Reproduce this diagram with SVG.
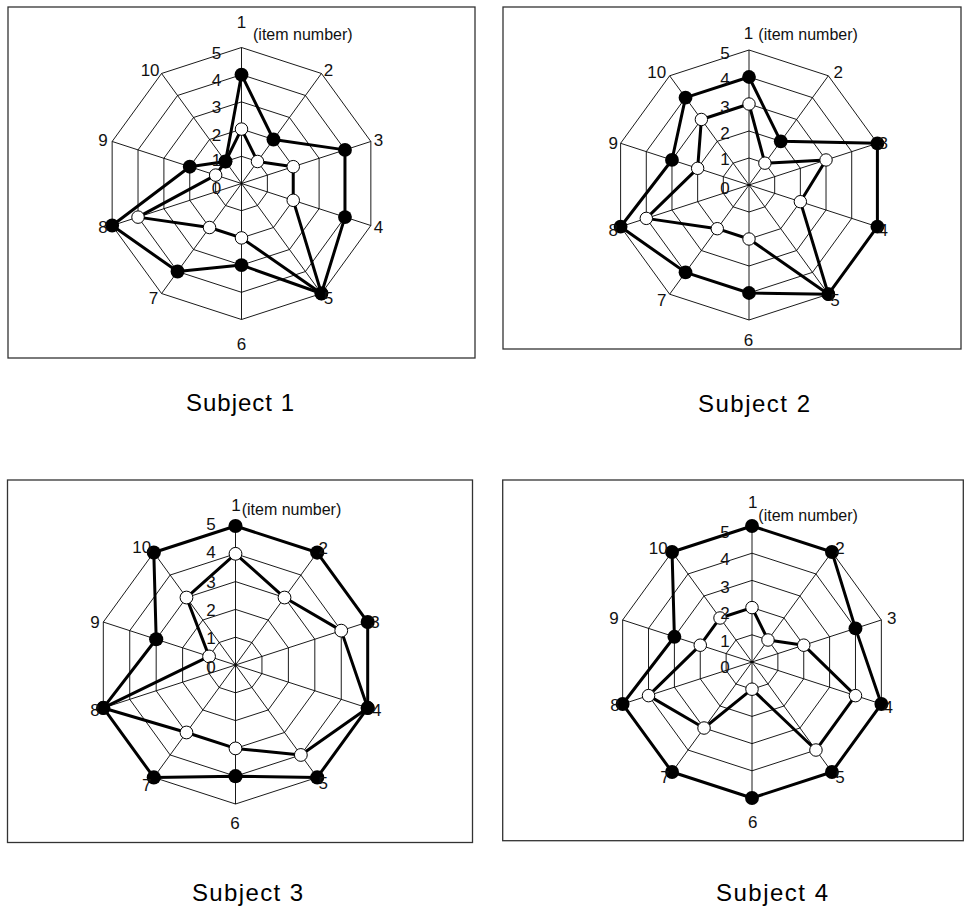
<svg xmlns="http://www.w3.org/2000/svg" xmlns:xlink="http://www.w3.org/1999/xlink" width="966" height="908" viewBox="0 0 966 908">
<style>
.frame{fill:#fff;stroke:#333;stroke-width:1.3}
.gr{fill:none;stroke:#000;stroke-width:0.9;vector-effect:non-scaling-stroke}
.ln{fill:none;stroke:#000;stroke-width:3;stroke-linejoin:round;vector-effect:non-scaling-stroke}
.w{fill:#fff;stroke:#000;stroke-width:1;vector-effect:non-scaling-stroke}
.b{fill:#000}
.lb{font-family:"Liberation Sans",Arial,sans-serif;font-size:17px;fill:#111;text-anchor:middle}
.it{font-family:"Liberation Sans",Arial,sans-serif;font-size:16px;fill:#111}
.subj{font-family:"Liberation Sans",Arial,sans-serif;font-size:24px;fill:#000;text-anchor:middle}
</style>
<defs>
<g id="grid">
<polygon class="gr" points="0,-100 58.78,-80.9 95.11,-30.9 95.11,30.9 58.78,80.9 0,100 -58.78,80.9 -95.11,30.9 -95.11,-30.9 -58.78,-80.9"/>
<polygon class="gr" points="0,-80 47.02,-64.72 76.08,-24.72 76.08,24.72 47.02,64.72 0,80 -47.02,64.72 -76.08,24.72 -76.08,-24.72 -47.02,-64.72"/>
<polygon class="gr" points="0,-60 35.27,-48.54 57.06,-18.54 57.06,18.54 35.27,48.54 0,60 -35.27,48.54 -57.06,18.54 -57.06,-18.54 -35.27,-48.54"/>
<polygon class="gr" points="0,-40 23.51,-32.36 38.04,-12.36 38.04,12.36 23.51,32.36 0,40 -23.51,32.36 -38.04,12.36 -38.04,-12.36 -23.51,-32.36"/>
<polygon class="gr" points="0,-20 11.76,-16.18 19.02,-6.18 19.02,6.18 11.76,16.18 0,20 -11.76,16.18 -19.02,6.18 -19.02,-6.18 -11.76,-16.18"/>
<path class="gr" d="M0,-100V100M58.78,-80.9L-58.78,80.9M95.11,-30.9L-95.11,30.9M95.11,30.9L-95.11,-30.9M58.78,80.9L-58.78,-80.9"/>
</g>
<circle id="wd" class="w" r="4.6"/>
<circle id="bd" class="b" r="5.1"/>
</defs>
<rect width="966" height="908" fill="#fff"/>

<g id="chart1">
<rect class="frame" x="8" y="7" width="467" height="351"/>
<g transform="translate(241.5,183.5) scale(1.36)">
<use href="#grid"/>
<polygon class="ln" points="0,-40 11.76,-16.18 38.04,-12.36 38.04,12.36 58.78,80.9 0,40 -23.51,32.36 -76.08,24.72 -19.02,-6.18 -11.76,-16.18"/>
<polygon class="ln" points="0,-80 23.51,-32.36 76.08,-24.72 76.08,24.72 58.78,80.9 0,60 -47.02,64.72 -95.11,30.9 -38.04,-12.36 -11.76,-16.18"/>
<use href="#wd" x="0" y="-40"/><use href="#wd" x="11.76" y="-16.18"/><use href="#wd" x="38.04" y="-12.36"/><use href="#wd" x="38.04" y="12.36"/><use href="#wd" x="58.78" y="80.9"/><use href="#wd" x="0" y="40"/><use href="#wd" x="-23.51" y="32.36"/><use href="#wd" x="-76.08" y="24.72"/><use href="#wd" x="-19.02" y="-6.18"/><use href="#wd" x="-11.76" y="-16.18"/>
<use href="#bd" x="0" y="-80"/><use href="#bd" x="23.51" y="-32.36"/><use href="#bd" x="76.08" y="-24.72"/><use href="#bd" x="76.08" y="24.72"/><use href="#bd" x="58.78" y="80.9"/><use href="#bd" x="0" y="60"/><use href="#bd" x="-47.02" y="64.72"/><use href="#bd" x="-95.11" y="30.9"/><use href="#bd" x="-38.04" y="-12.36"/><use href="#bd" x="-11.76" y="-16.18"/>
</g>
<text class="lb" x="241.5" y="27.5">1</text>
<text class="it" x="253" y="39.5">(item number)</text>
<text class="lb" x="328.4" y="76">2</text>
<text class="lb" x="378.4" y="146">3</text>
<text class="lb" x="378.4" y="232.5">4</text>
<text class="lb" x="328.4" y="303.5">5</text>
<text class="lb" x="241.5" y="349.5">6</text>
<text class="lb" x="153.6" y="303.5">7</text>
<text class="lb" x="103.1" y="232.5">8</text>
<text class="lb" x="103.1" y="146">9</text>
<text class="lb" x="150.1" y="76">10</text>
<text class="lb" x="216.5" y="59.3">5</text>
<text class="lb" x="216.5" y="86">4</text>
<text class="lb" x="216.5" y="113">3</text>
<text class="lb" x="216.5" y="141">2</text>
<text class="lb" x="216.5" y="166">1</text>
<text class="lb" x="216.5" y="194">0</text>
<text class="subj" x="240" y="410.5" textLength="108" lengthAdjust="spacing">Subject 1</text>
</g>

<g id="chart2">
<rect class="frame" x="503" y="7" width="458" height="342"/>
<g transform="translate(749,185) scale(1.35)">
<use href="#grid"/>
<polygon class="ln" points="0,-60 11.76,-16.18 57.06,-18.54 38.04,12.36 58.78,80.9 0,40 -23.51,32.36 -76.08,24.72 -38.04,-12.36 -35.27,-48.54"/>
<polygon class="ln" points="0,-80 23.51,-32.36 95.11,-30.9 95.11,30.9 58.78,80.9 0,80 -47.02,64.72 -95.11,30.9 -57.06,-18.54 -47.02,-64.72"/>
<use href="#wd" x="0" y="-60"/><use href="#wd" x="11.76" y="-16.18"/><use href="#wd" x="57.06" y="-18.54"/><use href="#wd" x="38.04" y="12.36"/><use href="#wd" x="58.78" y="80.9"/><use href="#wd" x="0" y="40"/><use href="#wd" x="-23.51" y="32.36"/><use href="#wd" x="-76.08" y="24.72"/><use href="#wd" x="-38.04" y="-12.36"/><use href="#wd" x="-35.27" y="-48.54"/>
<use href="#bd" x="0" y="-80"/><use href="#bd" x="23.51" y="-32.36"/><use href="#bd" x="95.11" y="-30.9"/><use href="#bd" x="95.11" y="30.9"/><use href="#bd" x="58.78" y="80.9"/><use href="#bd" x="0" y="80"/><use href="#bd" x="-47.02" y="64.72"/><use href="#bd" x="-95.11" y="30.9"/><use href="#bd" x="-57.06" y="-18.54"/><use href="#bd" x="-47.02" y="-64.72"/>
</g>
<text class="lb" x="748.5" y="39.3">1</text>
<text class="it" x="758.3" y="39.5">(item number)</text>
<text class="lb" x="838.3" y="77.7">2</text>
<text class="lb" x="883.3" y="149.3">3</text>
<text class="lb" x="883.3" y="236">4</text>
<text class="lb" x="835" y="306">5</text>
<text class="lb" x="748.5" y="346">6</text>
<text class="lb" x="661.7" y="306">7</text>
<text class="lb" x="613.3" y="236">8</text>
<text class="lb" x="613.3" y="149.3">9</text>
<text class="lb" x="656.7" y="77.7">10</text>
<text class="lb" x="725" y="59.3">5</text>
<text class="lb" x="725" y="85.3">4</text>
<text class="lb" x="725" y="112.7">3</text>
<text class="lb" x="725" y="139.3">2</text>
<text class="lb" x="725" y="165.3">1</text>
<text class="lb" x="725" y="194.3">0</text>
<text class="subj" x="754" y="411.5" textLength="112" lengthAdjust="spacing">Subject 2</text>
</g>

<g id="chart3">
<rect class="frame" x="7.5" y="480" width="465" height="362.5"/>
<g transform="translate(235.5,665) scale(1.39)">
<use href="#grid"/>
<polygon class="ln" points="0,-80 35.27,-48.54 76.08,-24.72 95.11,30.9 47.02,64.72 0,60 -35.27,48.54 -95.11,30.9 -19.02,-6.18 -35.27,-48.54"/>
<polygon class="ln" points="0,-100 58.78,-80.9 95.11,-30.9 95.11,30.9 58.78,80.9 0,80 -58.78,80.9 -95.11,30.9 -57.06,-18.54 -58.78,-80.9"/>
<use href="#wd" x="0" y="-80"/><use href="#wd" x="35.27" y="-48.54"/><use href="#wd" x="76.08" y="-24.72"/><use href="#wd" x="95.11" y="30.9"/><use href="#wd" x="47.02" y="64.72"/><use href="#wd" x="0" y="60"/><use href="#wd" x="-35.27" y="48.54"/><use href="#wd" x="-95.11" y="30.9"/><use href="#wd" x="-19.02" y="-6.18"/><use href="#wd" x="-35.27" y="-48.54"/>
<use href="#bd" x="0" y="-100"/><use href="#bd" x="58.78" y="-80.9"/><use href="#bd" x="95.11" y="-30.9"/><use href="#bd" x="95.11" y="30.9"/><use href="#bd" x="58.78" y="80.9"/><use href="#bd" x="0" y="80"/><use href="#bd" x="-58.78" y="80.9"/><use href="#bd" x="-95.11" y="30.9"/><use href="#bd" x="-57.06" y="-18.54"/><use href="#bd" x="-58.78" y="-80.9"/>
</g>
<text class="lb" x="236" y="511">1</text>
<text class="it" x="241.7" y="514.5">(item number)</text>
<text class="lb" x="323.3" y="554.3">2</text>
<text class="lb" x="375" y="627.7">3</text>
<text class="lb" x="376.7" y="716">4</text>
<text class="lb" x="323.3" y="789.3">5</text>
<text class="lb" x="235" y="829.3">6</text>
<text class="lb" x="146.7" y="791">7</text>
<text class="lb" x="95" y="716">8</text>
<text class="lb" x="95" y="627.7">9</text>
<text class="lb" x="141.7" y="552.7">10</text>
<text class="lb" x="211" y="530">5</text>
<text class="lb" x="211" y="558">4</text>
<text class="lb" x="211" y="588">3</text>
<text class="lb" x="211" y="616">2</text>
<text class="lb" x="211" y="644">1</text>
<text class="lb" x="211" y="673">0</text>
<text class="subj" x="247.5" y="900.5" textLength="111" lengthAdjust="spacing">Subject 3</text>
</g>

<g id="chart4">
<rect class="frame" x="502.7" y="480" width="460.6" height="360.7"/>
<g transform="translate(752,662) scale(1.36)">
<use href="#grid"/>
<polygon class="ln" points="0,-40 11.76,-16.18 38.04,-12.36 76.08,24.72 47.02,64.72 0,20 -35.27,48.54 -76.08,24.72 -38.04,-12.36 -23.51,-32.36"/>
<polygon class="ln" points="0,-100 58.78,-80.9 76.08,-24.72 95.11,30.9 58.78,80.9 0,100 -58.78,80.9 -95.11,30.9 -57.06,-18.54 -58.78,-80.9"/>
<use href="#wd" x="0" y="-40"/><use href="#wd" x="11.76" y="-16.18"/><use href="#wd" x="38.04" y="-12.36"/><use href="#wd" x="76.08" y="24.72"/><use href="#wd" x="47.02" y="64.72"/><use href="#wd" x="0" y="20"/><use href="#wd" x="-35.27" y="48.54"/><use href="#wd" x="-76.08" y="24.72"/><use href="#wd" x="-38.04" y="-12.36"/><use href="#wd" x="-23.51" y="-32.36"/>
<use href="#bd" x="0" y="-100"/><use href="#bd" x="58.78" y="-80.9"/><use href="#bd" x="76.08" y="-24.72"/><use href="#bd" x="95.11" y="30.9"/><use href="#bd" x="58.78" y="80.9"/><use href="#bd" x="0" y="100"/><use href="#bd" x="-58.78" y="80.9"/><use href="#bd" x="-95.11" y="30.9"/><use href="#bd" x="-57.06" y="-18.54"/><use href="#bd" x="-58.78" y="-80.9"/>
</g>
<text class="lb" x="752.7" y="507.7">1</text>
<text class="it" x="758.3" y="521">(item number)</text>
<text class="lb" x="840" y="554.3">2</text>
<text class="lb" x="891.7" y="624.3">3</text>
<text class="lb" x="888.3" y="712.7">4</text>
<text class="lb" x="840" y="782.7">5</text>
<text class="lb" x="752.7" y="827.7">6</text>
<text class="lb" x="665" y="782.7">7</text>
<text class="lb" x="615" y="711">8</text>
<text class="lb" x="614" y="624.3">9</text>
<text class="lb" x="658.3" y="554.3">10</text>
<text class="lb" x="725" y="537.7">5</text>
<text class="lb" x="725" y="565.3">4</text>
<text class="lb" x="725" y="592.7">3</text>
<text class="lb" x="725" y="619.3">2</text>
<text class="lb" x="725" y="646.7">1</text>
<text class="lb" x="725" y="672.7">0</text>
<text class="subj" x="772" y="900.5" textLength="112" lengthAdjust="spacing">Subject 4</text>
</g>
</svg>
